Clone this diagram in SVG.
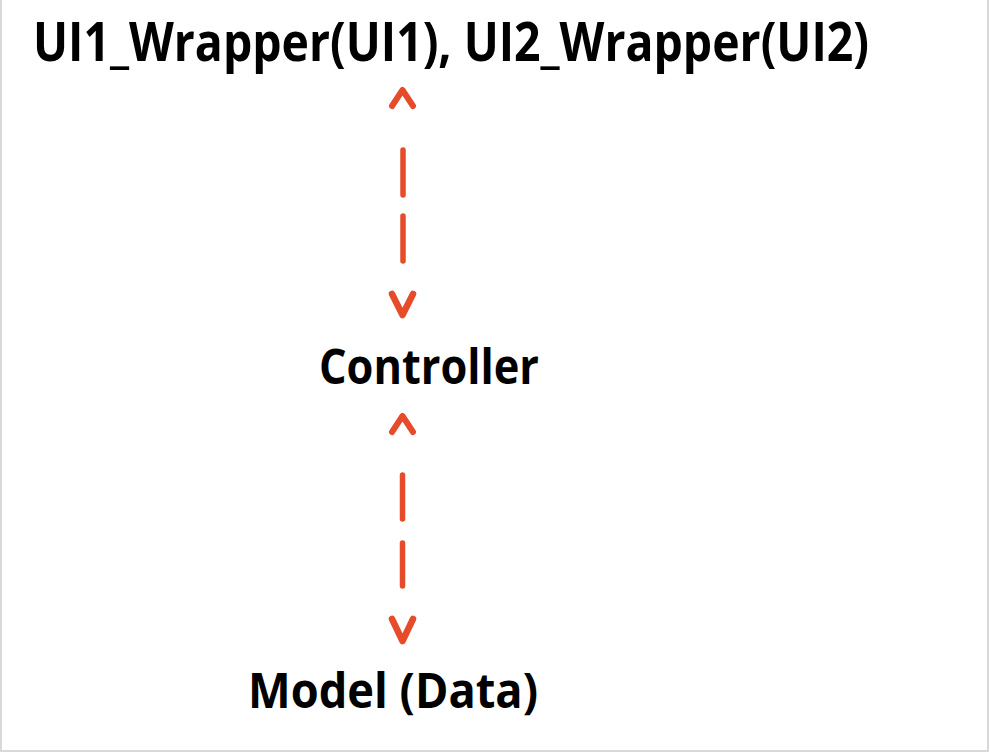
<svg xmlns="http://www.w3.org/2000/svg" width="990" height="754" viewBox="0 0 990 754">
<style>
.lbl{font-family:"Open Sans","Liberation Sans",sans-serif;font-weight:700;fill:#000;}
.arr{stroke:#E64B2A;fill:none;stroke-linecap:round;stroke-linejoin:round;}
</style>
<rect width="990" height="754" fill="#fff"/>
<path d="M1,0 V751 H988 V0" fill="none" stroke="#d9d9d9" stroke-width="2"/>
<g id="ui">
<text class="lbl" x="33" y="61" font-size="53" textLength="836" lengthAdjust="spacingAndGlyphs">UI1_Wrapper(UI1), UI2_Wrapper(UI2)</text>
</g>
<g id="controller">
<text class="lbl" x="319" y="384" font-size="49" textLength="220" lengthAdjust="spacingAndGlyphs">Controller</text>
</g>
<g id="model">
<text class="lbl" x="248" y="708" font-size="49" textLength="290" lengthAdjust="spacingAndGlyphs">Model (Data)</text>
</g>
<g id="connectors">
<g class="arr">
<path d="M392,106 L402.5,90 L413,106" stroke-width="6"/>
<path d="M403,150 V195" stroke-width="5.5"/>
<path d="M403,216 V261" stroke-width="5.5"/>
<path d="M392,294 L402.5,315 L413,294" stroke-width="6.5"/>
<path d="M392,432 L402.5,416 L413,432" stroke-width="6"/>
<path d="M402.5,475 V519" stroke-width="5.5"/>
<path d="M402.5,543 V586" stroke-width="5.5"/>
<path d="M392,619 L402.5,641 L413,619" stroke-width="6.5"/>
</g>
</g>
</svg>
